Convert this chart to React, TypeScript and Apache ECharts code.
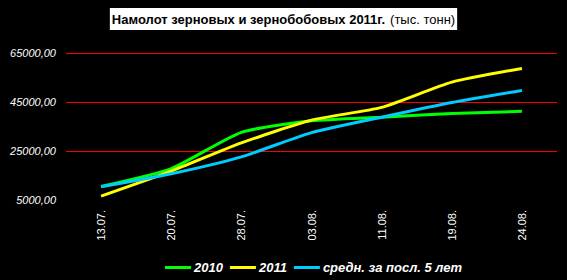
import React, { useEffect, useRef } from "react";
import * as echarts from "echarts";

const categories = ["13.07.", "20.07.", "28.07.", "03.08.", "11.08.", "19.08.", "24.08."];
const series2010 = [10500, 17800, 32600, 37300, 38800, 40300, 41200];
const series2011 = [6600, 16800, 28300, 37600, 42800, 53100, 58700];
const seriesAvg = [10400, 15700, 22600, 32500, 38800, 44800, 49700];
const seriesNames = ["2010", "2011", "средн. за посл. 5 лет"];
const seriesColors = ["#00ff00", "#ffff00", "#00ccff"];

export default function App() {
  const ref = useRef<HTMLDivElement>(null);
  useEffect(() => {
    document.body.style.margin = "0";
    const chart = echarts.init(ref.current!, null, { renderer: "svg" });
    const datasets = [series2010, series2011, seriesAvg];
    chart.setOption({
      animation: false,
      backgroundColor: "#000000",
      title: {
        text: "{b|Намолот зерновых и зернобобовых 2011г.} {n|(тыс. тонн)}",
        left: "center",
        top: 8,
        backgroundColor: "#ffffff",
        padding: [2, 2, 2, 2],
        textStyle: {
          rich: {
            b: { fontFamily: "Liberation Sans, Arial", fontWeight: "bold", fontSize: 13, color: "#000" },
            n: { fontFamily: "Liberation Sans, Arial", fontWeight: "normal", fontSize: 13, color: "#000" },
          },
        },
      },
      legend: {
        left: 160,
        top: 256,
        icon: "rect",
        itemWidth: 26,
        itemHeight: 3,
        itemGap: 7,
        data: seriesNames,
        textStyle: {
          color: "#ffffff",
          fontFamily: "Liberation Sans, Arial",
          fontWeight: "bold",
          fontStyle: "italic",
          fontSize: 13,
          padding: [0, 0, 0, -2],
        },
      },
      grid: { left: 66, right: 10, top: 53, bottom: 80 },
      xAxis: {
        type: "category",
        data: categories,
        boundaryGap: true,
        axisLine: { show: false },
        axisTick: { show: false },
        axisLabel: {
          rotate: 90,
          color: "#ffffff",
          fontFamily: "Liberation Sans, Arial",
          fontSize: 11,
          margin: 10,
        },
      },
      yAxis: {
        type: "value",
        min: 5000,
        max: 65000,
        interval: 20000,
        axisLine: { show: false },
        axisTick: { show: false },
        axisLabel: {
          color: "#ffffff",
          fontFamily: "Liberation Sans, Arial",
          fontStyle: "italic",
          fontSize: 11,
          margin: 10,
          formatter: (v: number) => v.toFixed(2).replace(".", ","),
        },
        splitLine: {
          show: true,
          showMinLine: false,
          showMaxLine: true,
          lineStyle: { color: "#ff0000", width: 1, opacity: 1 },
        },
      },
      series: seriesNames.map((name, i) => ({
        name,
        type: "line",
        data: datasets[i],
        smooth: 0.2,
        showSymbol: false,
        symbol: "none",
        color: seriesColors[i],
        lineStyle: { color: seriesColors[i], width: 3 },
      })),
    });
    return () => chart.dispose();
  }, []);
  return <div ref={ref} style={{ position: "absolute", left: 0, top: 0, width: 567, height: 280 }} />;
}
